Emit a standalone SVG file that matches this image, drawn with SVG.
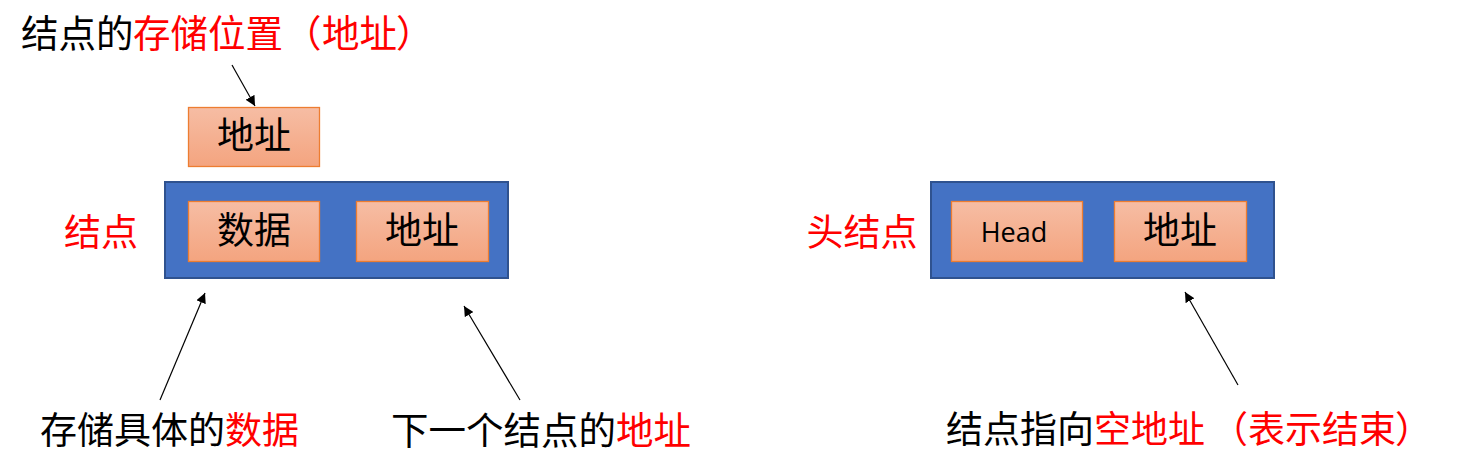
<svg xmlns="http://www.w3.org/2000/svg" width="1457" height="476" viewBox="0 0 1457 476">
<defs>
<linearGradient id="og" x1="0" y1="0" x2="0" y2="1">
<stop offset="0" stop-color="#F6BDA4"/>
<stop offset="1" stop-color="#F4A47F"/>
</linearGradient>
<marker id="ah" viewBox="0 0 10 10" refX="10" refY="5" markerWidth="10" markerHeight="10" markerUnits="userSpaceOnUse" orient="auto">
<path d="M0,0 L10,5 L0,10 z" fill="#000"/>
</marker>
</defs>
<style>
text{font-family:"Noto Sans CJK SC","Noto Sans",sans-serif;font-size:37px;fill:#000}
.r{fill:#FF0000}
.c{text-anchor:middle}
.cell{fill:url(#og);stroke:#ED7D31;stroke-width:1.3}
.outer{fill:#4472C4;stroke:#2F528F;stroke-width:2}
.con{stroke:#000;stroke-width:1.2;fill:none;marker-end:url(#ah)}
.head{font-family:"Open Sans","Liberation Sans",sans-serif;font-size:27px}
</style>
<rect width="1457" height="476" fill="#fff"/>
<g id="label-top"><text y="47" style="font-size:37.5px"><tspan x="21">结点的</tspan><tspan class="r" x="133">存储位置</tspan><tspan class="r" x="284">（</tspan><tspan class="r" x="322">地址</tspan><tspan class="r" x="396">）</tspan></text></g>
<g id="addr-box"><rect class="cell" x="188.5" y="107.5" width="131" height="59"/><text class="c" x="254" y="149">地址</text></g>
<g id="node-label"><text class="r c" x="101" y="246">结点</text></g>
<g id="node">
<rect class="outer" x="165" y="182" width="343" height="96"/>
<rect class="cell" x="188.5" y="201.5" width="131" height="60"/><text class="c" x="254" y="244">数据</text>
<rect class="cell" x="356.5" y="201.5" width="132" height="60"/><text class="c" x="422" y="244">地址</text>
</g>
<g id="head-label"><text class="r c" x="862" y="246">头结点</text></g>
<g id="head-node">
<rect class="outer" x="931" y="182" width="343" height="96"/>
<rect class="cell" x="951.5" y="201.5" width="131" height="60"/><text class="head c" x="1014" y="242">Head</text>
<rect class="cell" x="1114.5" y="201.5" width="132" height="60"/><text class="c" x="1180" y="244">地址</text>
</g>
<g id="label-data"><text x="40" y="444">存储具体的<tspan class="r">数据</tspan></text></g>
<g id="label-next"><text x="391" y="444" style="font-size:37.5px">下一个结点的<tspan class="r">地址</tspan></text></g>
<g id="label-end"><text y="443"><tspan x="946">结点指向</tspan><tspan class="r" x="1094">空地址</tspan><tspan class="r" x="1211">（</tspan><tspan class="r" x="1248">表示结束</tspan><tspan class="r" x="1395">）</tspan></text></g>
<g id="connectors">
<line class="con" x1="232" y1="65" x2="255" y2="106"/>
<line class="con" x1="160" y1="400" x2="205" y2="293"/>
<line class="con" x1="520" y1="400" x2="464" y2="306"/>
<line class="con" x1="1238" y1="385" x2="1185" y2="292"/>
</g>
</svg>
